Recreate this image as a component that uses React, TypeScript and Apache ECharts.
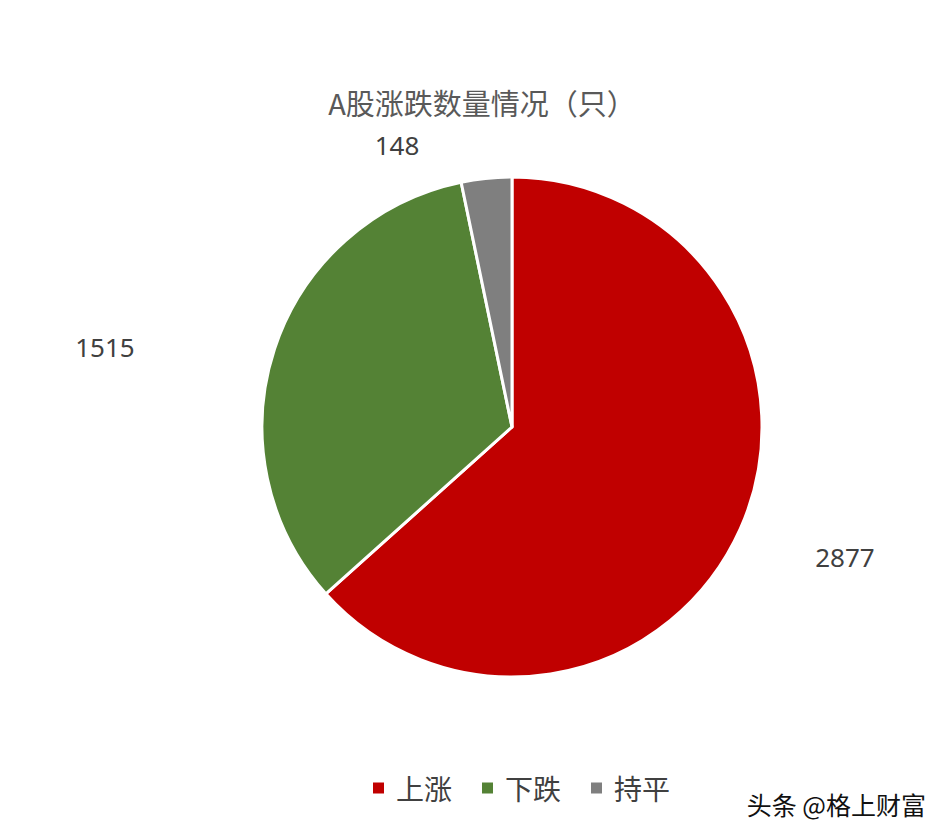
import React, { useEffect, useRef } from "react";
import * as echarts from "echarts";

const categories = ["上涨", "下跌", "持平"];
const values = [2877, 1515, 148];
const colors = ["#C00000", "#548235", "#7F7F7F"];
const titleText = "A股涨跌数量情况（只）";
const watermark = "头条 @格上财富";

export default function App() {
  const ref = useRef<HTMLDivElement>(null);
  useEffect(() => {
    document.body.style.margin = "0";
    const chart = echarts.init(ref.current!, null, { renderer: "svg" });
    const labelPos = [
      [845, 557],
      [105, 347],
      [397, 145],
    ];
    chart.setOption({
      animation: false,
      backgroundColor: "#ffffff",
      title: {
        text: titleText,
        left: 477,
        top: 82,
        textAlign: "center",
        textStyle: {
          fontFamily: "Noto Sans CJK SC",
          fontSize: 29,
          fontWeight: "normal",
          color: "#595959",
        },
      },
      legend: {
        data: categories,
        left: 366,
        top: 769,
        icon: "rect",
        itemWidth: 13,
        itemHeight: 13,
        itemGap: 28,
        textStyle: {
          fontFamily: "Noto Sans CJK SC",
          fontSize: 28,
          color: "#404040",
          padding: [0, 0, 0, 6],
        },
      },
      graphic: [
        {
          type: "text",
          right: 22,
          top: 791,
          style: {
            text: watermark,
            font: '25px "Noto Sans CJK SC"',
            fill: "#111111",
          },
        },
      ],
      series: [
        {
          type: "pie",
          center: [512, 427],
          radius: [0, 250],
          startAngle: 90,
          clockwise: true,
          data: categories.map((c, i) => ({
            name: c,
            value: values[i],
            itemStyle: { color: colors[i] },
          })),
          itemStyle: { borderColor: "#ffffff", borderWidth: 3 },
          label: {
            show: true,
            position: "outside",
            formatter: "{c}",
            fontFamily: "Noto Sans",
            fontSize: 26,
            color: "#404040",
          },
          labelLine: { show: false },
          labelLayout: (params: any) => {
            const p = labelPos[params.dataIndex];
            return { x: p[0], y: p[1], align: "center", verticalAlign: "middle" };
          },
          emphasis: { disabled: true },
        },
      ],
    });
    return () => chart.dispose();
  }, []);
  return <div ref={ref} style={{ width: 948, height: 840 }} />;
}
